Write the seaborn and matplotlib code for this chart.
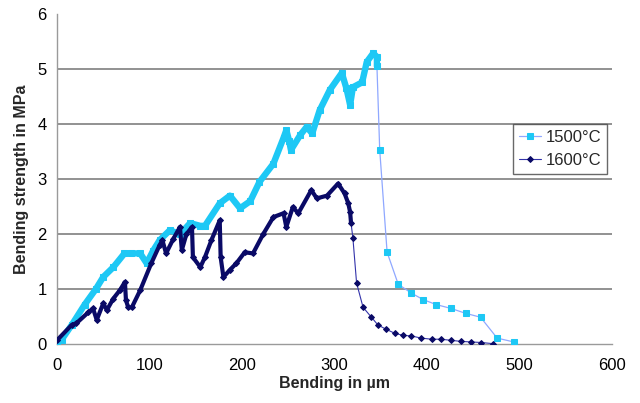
import seaborn as sns
import matplotlib.pyplot as plt
import pandas as pd

# valores
bend_1500 = [0, 5, 16, 30, 42, 50, 61, 73, 80, 90, 97, 104, 111, 122, 133, 144, 155, 160,
             176, 187, 198, 209, 219, 234, 245, 248, 251, 253, 263, 270, 276, 284, 295,
             308, 313, 317, 320, 330, 335, 342, 346, 346,
             349, 357, 369, 383, 396, 410, 426, 442, 458, 476, 494]
strength_1500 = [0.05, 0.08, 0.35, 0.72, 1.0, 1.22, 1.4, 1.65, 1.65, 1.65, 1.47, 1.7, 1.89,
                 2.07, 2.0, 2.2, 2.15, 2.15, 2.56, 2.7, 2.47, 2.6, 2.95, 3.28, 3.75, 3.89,
                 3.7, 3.53, 3.8, 3.95, 3.83, 4.25, 4.62, 4.93, 4.65, 4.35, 4.67, 4.76, 5.13,
                 5.29, 5.22, 5.05,
                 3.53, 1.67, 1.09, 0.93, 0.81, 0.72, 0.65, 0.56, 0.49, 0.11, 0.04]
dense_1500 = 42

bend_1600 = [0, 16, 21, 34, 39, 43, 50, 54, 61, 68, 73.5, 74.6, 77, 81, 90, 102, 111, 114,
             118, 126, 133, 135, 140, 146, 147, 155, 160, 167, 176, 177, 180, 187, 194,
             203, 212, 223, 234, 245, 248, 255, 261, 275, 281, 292, 304, 311, 315, 317, 318,
             320, 324, 331, 340, 347, 356, 365, 374, 383, 394, 405, 415, 426, 437, 448,
             459, 471]
strength_1600 = [0.07, 0.35, 0.38, 0.58, 0.65, 0.44, 0.74, 0.62, 0.83, 0.98, 1.13, 0.8,
                 0.67, 0.67, 0.98, 1.47, 1.8, 1.89, 1.65, 1.92, 2.13, 1.71, 2.0, 2.13, 1.58,
                 1.4, 1.58, 1.89, 2.25, 1.58, 1.22, 1.35, 1.47, 1.67, 1.65, 2.0, 2.31, 2.38,
                 2.13, 2.49, 2.38, 2.8, 2.65, 2.7, 2.92, 2.74, 2.56, 2.4, 2.2,
                 1.93, 1.11, 0.67, 0.49, 0.35, 0.27, 0.2, 0.16, 0.15, 0.11, 0.09, 0.09,
                 0.07, 0.05, 0.04, 0.03, 0.01]
dense_1600 = 49

df1 = pd.DataFrame({'bend': bend_1500, 'strength': strength_1500})
df2 = pd.DataFrame({'bend': bend_1600, 'strength': strength_1600})

sns.set_style('white')
plt.rcParams['font.family'] = ['Liberation Sans', 'DejaVu Sans']

fig = plt.figure(figsize=(6.4, 4.03), dpi=100)
ax = fig.add_axes([0.089, 0.146, 0.867, 0.819])

# linhas finas com marcadores
sns.lineplot(x='bend', y='strength', data=df1, ax=ax, color='#8fa8ff', lw=0.9,
             marker='s', markersize=4.2, markerfacecolor='#1ec8f5', markeredgecolor='#1ec8f5',
             label='1500°C', estimator=None, sort=False, zorder=3)
sns.lineplot(x='bend', y='strength', data=df2, ax=ax, color='#3333aa', lw=0.8,
             marker='D', markersize=3, markerfacecolor='#0a0a66', markeredgecolor='#0a0a66',
             label='1600°C', estimator=None, sort=False, zorder=5)

# parte densa (marcadores sobrepostos)
sns.lineplot(x='bend', y='strength', data=df1.iloc[:dense_1500], ax=ax, color='#1ec8f5',
             lw=4.6, estimator=None, sort=False, legend=False, zorder=4)
sns.lineplot(x='bend', y='strength', data=df2.iloc[:dense_1600], ax=ax, color='#0a0a66',
             lw=3.0, estimator=None, sort=False, legend=False, zorder=6)

ax.set_xlim(0, 600)
ax.set_ylim(0, 6)
ax.set_xticks(range(0, 601, 100))
ax.set_yticks(range(0, 7))
for y in range(1, 6):
    ax.axhline(y, color='#7f7f7f', lw=1.2, zorder=1)

for s in ['top', 'right']:
    ax.spines[s].set_visible(False)
for s in ['left', 'bottom']:
    ax.spines[s].set_color('#9a9a9a')
    ax.spines[s].set_linewidth(1.0)
ax.tick_params(axis='both', direction='out', length=4, color='#9a9a9a', labelsize=12,
               labelcolor='black')
ax.tick_params(axis='x', pad=6)

ax.set_xlabel('Bending in µm', fontsize=11.5, fontweight='bold', labelpad=2)
ax.set_ylabel('Bending strength in MPa', fontsize=11.5, fontweight='bold', labelpad=6)

leg = ax.legend(loc='upper left', bbox_to_anchor=(0.822, 0.666), fontsize=12,
                frameon=True, fancybox=False, handlelength=1.3, borderpad=0.35,
                labelspacing=0.45, handletextpad=0.3, borderaxespad=0)
leg.get_frame().set_edgecolor('#444444')
leg.get_frame().set_linewidth(1.0)

fig.savefig('out.png', dpi=100)
